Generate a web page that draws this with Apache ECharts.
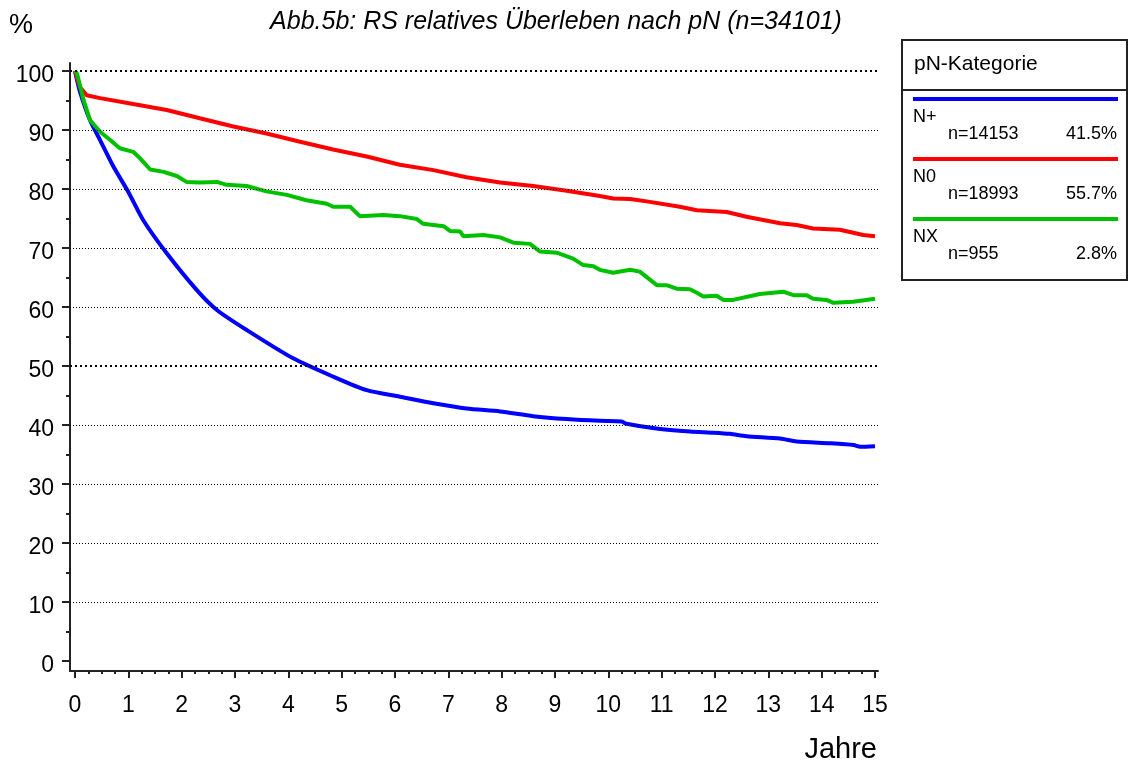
<!DOCTYPE html>
<html>
<head>
<meta charset="utf-8">
<script src="https://cdn.jsdelivr.net/npm/echarts@6/dist/echarts.min.js"></script>
<style>
  html, body { margin: 0; padding: 0; background: #fff; }
  #chart { width: 1129px; height: 765px; }
</style>
</head>
<body>
<div id="chart"></div>
<script>
// Jahre / % pro Kurve
const nPlusYears = [0, 0.09, 0.28, 0.47, 0.72, 1.0, 1.28, 1.72, 2.28, 2.66, 3.22, 4.09, 4.84, 5.47, 6.09, 6.72, 7.34, 7.97, 8.59, 9.22, 9.84, 10.25, 10.34, 10.9, 11.53, 11.97, 12.28, 12.59, 13.22, 13.53, 14.16, 14.6, 14.72, 15];
const nPlusValues = [100, 96.6, 91.7, 88.3, 83.8, 79.5, 74.7, 69.1, 62.9, 59.5, 56.1, 51.3, 48.2, 45.9, 44.8, 43.7, 42.8, 42.3, 41.5, 41.0, 40.7, 40.6, 40.2, 39.4, 38.9, 38.7, 38.5, 38.1, 37.7, 37.2, 36.9, 36.6, 36.3, 36.4];

const n0Years = [0, 0.09, 0.22, 0.47, 1.09, 1.72, 2.34, 2.97, 3.59, 4.22, 4.84, 5.47, 6.09, 6.72, 7.34, 7.97, 8.59, 9.22, 9.84, 10.09, 10.41, 10.72, 11.34, 11.66, 12.22, 12.59, 13.22, 13.53, 13.84, 14.34, 14.78, 15];
const n0Values = [100, 97.3, 95.9, 95.4, 94.4, 93.4, 92.0, 90.6, 89.4, 88.0, 86.7, 85.5, 84.1, 83.2, 82.0, 81.1, 80.5, 79.7, 78.8, 78.4, 78.3, 77.9, 77.0, 76.4, 76.1, 75.3, 74.2, 73.9, 73.3, 73.1, 72.2, 72.0];

const nxYears = [0, 0.04, 0.16, 0.28, 0.47, 0.66, 0.84, 1.09, 1.22, 1.41, 1.66, 1.91, 2.09, 2.34, 2.66, 2.84, 3.22, 3.59, 3.97, 4.34, 4.72, 4.84, 5.16, 5.34, 5.78, 6.09, 6.41, 6.53, 6.91, 7.03, 7.22, 7.28, 7.66, 7.97, 8.22, 8.53, 8.72, 9.03, 9.34, 9.53, 9.72, 9.84, 10.09, 10.41, 10.59, 10.91, 11.09, 11.28, 11.53, 11.66, 11.78, 12.03, 12.16, 12.34, 12.84, 12.87, 13.28, 13.47, 13.72, 13.84, 14.09, 14.22, 14.59, 15];
const nxValues = [100, 99.5, 95.1, 91.7, 89.7, 88.3, 86.9, 86.3, 85.2, 83.3, 82.9, 82.2, 81.2, 81.1, 81.2, 80.7, 80.5, 79.6, 79.0, 78.1, 77.5, 77.0, 77.0, 75.4, 75.6, 75.4, 74.9, 74.1, 73.7, 72.9, 72.8, 72.0, 72.2, 71.8, 70.9, 70.7, 69.4, 69.2, 68.2, 67.1, 66.9, 66.3, 65.8, 66.3, 66.0, 63.7, 63.7, 63.1, 63.0, 62.4, 61.8, 61.9, 61.2, 61.2, 62.2, 61.9, 62.6, 62.0, 62.0, 61.4, 61.2, 60.7, 60.9, 61.4];

const categories = ['N+', 'N0', 'NX'];
const counts = ['n=14153', 'n=18993', 'n=955'];
const shares = ['41.5%', '55.7%', '2.8%'];
const colors = ['#0000ff', '#ff0000', '#00c000'];

const thinGrid = [10, 20, 30, 40, 60, 70, 80, 90];
const boldGrid = [50, 100];

const font = '"Liberation Sans", Arial, sans-serif';
const zip = (xs, ys) => xs.map((x, i) => [x, ys[i]]);

const chart = echarts.init(document.getElementById('chart'));

// Legende rechts als Kasten
const legendItems = [];
categories.forEach((name, i) => {
  const top = 99 + i * 60;
  legendItems.push(
    { type: 'line', shape: { x1: 913, y1: top, x2: 1118, y2: top }, style: { stroke: colors[i], lineWidth: 4 } },
    { type: 'text', x: 913, y: top + 18, style: { text: name, font: '18px ' + font, fill: '#000', textVerticalAlign: 'middle' } },
    { type: 'text', x: 948, y: top + 35, style: { text: counts[i], font: '18px ' + font, fill: '#000', textVerticalAlign: 'middle' } },
    { type: 'text', x: 1117, y: top + 35, style: { text: shares[i], font: '18px ' + font, fill: '#000', textAlign: 'right', textVerticalAlign: 'middle' } }
  );
});

const option = {
  backgroundColor: '#fff',
  animation: false,
  // grid 0: Achsenlinien + Gitter, grid 1: Daten, Ticks, Beschriftung
  grid: [
    { left: 70, top: 63, width: 808, height: 608 },
    { left: 75, top: 71, width: 800, height: 590 }
  ],
  xAxis: [
    {
      gridIndex: 0, type: 'value', min: -0.09375, max: 15.05625,
      axisLine: { show: true, onZero: false, lineStyle: { color: '#222', width: 2 } },
      axisTick: { show: false }, axisLabel: { show: false }, splitLine: { show: false }
    },
    {
      gridIndex: 1, type: 'value', min: 0, max: 15, interval: 1, offset: 10,
      axisLine: { show: false, onZero: false },
      axisTick: { show: true, length: 7, lineStyle: { color: '#222', width: 2 } },
      minorTick: { show: true, splitNumber: 4, length: 3, lineStyle: { color: '#222', width: 2 } },
      axisLabel: { color: '#000', fontSize: 23, fontFamily: font, margin: 23 },
      splitLine: { show: false }
    }
  ],
  yAxis: [
    {
      gridIndex: 0, type: 'value', min: -1.695, max: 101.356,
      axisLine: { show: true, onZero: false, lineStyle: { color: '#222', width: 2 } },
      axisTick: { show: false }, axisLabel: { show: false }, splitLine: { show: false }
    },
    {
      gridIndex: 1, type: 'value', min: 0, max: 100, interval: 10, offset: 5,
      axisLine: { show: false, onZero: false },
      axisTick: { show: true, length: 8, lineStyle: { color: '#222', width: 2 } },
      minorTick: { show: true, splitNumber: 2, length: 4, lineStyle: { color: '#222', width: 2 } },
      axisLabel: { color: '#000', fontSize: 23, fontFamily: font, margin: 16, verticalAlign: 'top', lineHeight: 10 },
      splitLine: { show: false }
    }
  ],
  series: [
    {
      type: 'line', xAxisIndex: 0, yAxisIndex: 0, data: [], z: 1, silent: true,
      markLine: {
        silent: true, symbol: 'none', label: { show: false },
        data: thinGrid.map(v => ({ yAxis: v, lineStyle: { color: '#000', width: 1, type: [1, 2] } }))
          .concat(boldGrid.map(v => ({ yAxis: v, lineStyle: { color: '#000', width: 2, type: [2, 3] } })))
      }
    },
    { name: 'N+', type: 'line', xAxisIndex: 1, yAxisIndex: 1, data: zip(nPlusYears, nPlusValues), showSymbol: false, smooth: 0.25, z: 3, lineStyle: { color: colors[0], width: 4 } },
    { name: 'N0', type: 'line', xAxisIndex: 1, yAxisIndex: 1, data: zip(n0Years, n0Values), showSymbol: false, z: 3, lineStyle: { color: colors[1], width: 4 } },
    { name: 'NX', type: 'line', xAxisIndex: 1, yAxisIndex: 1, data: zip(nxYears, nxValues), showSymbol: false, z: 3, lineStyle: { color: colors[2], width: 4 } }
  ],
  graphic: [
    { type: 'text', x: 556, y: 22, style: { text: 'Abb.5b: RS relatives Überleben nach pN (n=34101)', font: 'italic 25px ' + font, fill: '#000', textAlign: 'center', textVerticalAlign: 'middle' } },
    { type: 'text', x: 9, y: 26, style: { text: '%', font: '27px ' + font, fill: '#000', textVerticalAlign: 'middle' } },
    { type: 'text', x: 877, y: 750, style: { text: 'Jahre', font: '29px ' + font, fill: '#000', textAlign: 'right', textVerticalAlign: 'middle' } },
    { type: 'rect', shape: { x: 902, y: 40, width: 225, height: 240 }, style: { fill: 'none', stroke: '#222', lineWidth: 2 } },
    { type: 'line', shape: { x1: 902, y1: 90, x2: 1127, y2: 90 }, style: { stroke: '#222', lineWidth: 2 } },
    { type: 'text', x: 914, y: 64, style: { text: 'pN-Kategorie', font: '21px ' + font, fill: '#000', textVerticalAlign: 'middle' } }
  ].concat(legendItems)
};

chart.setOption(option);
</script>
</body>
</html>
